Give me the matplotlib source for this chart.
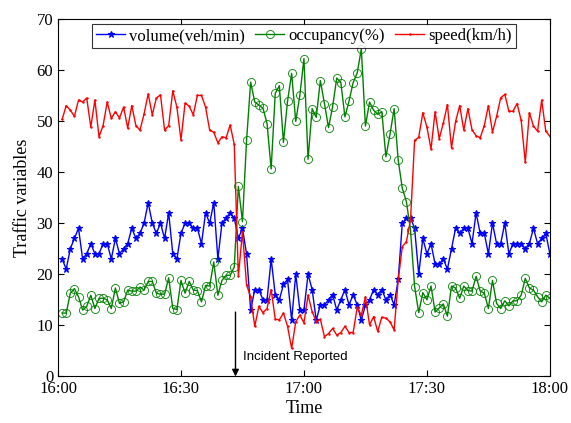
import numpy as np
import matplotlib
matplotlib.use("Agg")
import matplotlib.pyplot as plt

# 每分钟一个数据点 (16:01 - 18:00)
minutes = np.arange(1, 121)

volume = [23, 21, 25, 27, 29, 23, 24, 26, 24, 24,
          26, 26, 23, 27, 24, 25, 26, 29, 27, 28,
          30, 34, 30, 28, 30, 27, 32, 24, 23, 28,
          30, 30, 29, 29, 26, 32, 30, 34, 23, 30,
          31, 32, 31, 27, 29, 24, 13, 17, 17, 15,
          15, 23, 16, 15, 18, 19, 11, 20, 13, 13,
          20, 17, 11, 14, 14, 15, 16, 13, 15, 17,
          14, 16, 14, 11, 14, 15, 17, 16, 17, 15,
          16, 14, 19, 30, 31, 31, 29, 20, 27, 24,
          26, 22, 22, 23, 21, 25, 29, 28, 29, 29,
          26, 32, 28, 28, 24, 30, 26, 26, 30, 24,
          26, 26, 26, 25, 26, 29, 26, 27, 28, 24]

occupancy = [12.4, 12.4, 16.3, 17.2, 15.6, 13.0, 13.7, 15.9, 13.3, 15.3,
             15.3, 15.0, 13.3, 17.3, 14.3, 14.6, 16.9, 16.7, 16.7, 17.5,
             16.9, 18.6, 18.6, 16.3, 16.1, 16.1, 19.3, 13.3, 13.1, 18.8,
             16.3, 18.6, 16.9, 16.8, 14.6, 17.8, 17.7, 22.4, 15.9, 18.8,
             19.8, 19.8, 21.4, 37.2, 30.3, 46.2, 57.6, 53.7, 53.1, 52.5,
             49.5, 40.6, 55.4, 56.9, 45.8, 53.9, 59.3, 49.9, 55.0, 62.2,
             42.5, 52.4, 50.7, 57.9, 53.4, 48.7, 52.8, 58.4, 57.5, 50.8,
             53.9, 57.5, 59.4, 64.1, 49.0, 53.7, 52.1, 51.3, 51.8, 43.0,
             47.4, 52.4, 42.3, 36.8, 34.2, 28.6, 17.6, 12.5, 16.4, 15.0,
             17.7, 12.6, 13.4, 14.2, 11.8, 17.7, 17.3, 15.3, 17.7, 16.8,
             16.7, 19.6, 16.7, 16.3, 13.3, 18.8, 14.3, 13.3, 14.8, 13.8,
             14.8, 14.8, 15.9, 19.2, 17.3, 16.9, 15.6, 14.6, 15.9, 15.3]

speed = [50.3, 53.0, 52.1, 50.9, 54.1, 53.7, 54.5, 48.8, 54.1, 46.9,
         49.1, 53.7, 50.5, 51.8, 50.6, 52.7, 48.6, 53.0, 49.1, 48.2,
         51.4, 55.3, 51.2, 54.5, 55.1, 48.2, 49.1, 55.9, 52.7, 46.3,
         53.5, 52.9, 51.2, 55.0, 55.0, 52.7, 48.2, 47.8, 45.7, 46.9,
         46.7, 49.2, 45.4, 19.6, 28.3, 17.9, 15.6, 9.8, 13.7, 12.5,
         13.3, 17.0, 11.2, 11.1, 12.4, 9.8, 5.5, 10.7, 12.0, 10.5,
         15.9, 12.7, 10.7, 11.2, 7.8, 8.4, 9.4, 8.1, 8.6, 9.8,
         8.6, 8.6, 13.5, 12.0, 15.6, 10.1, 11.7, 8.8, 11.6, 11.4,
         10.7, 9.1, 18.9, 25.4, 26.4, 30.6, 46.2, 46.8, 51.6, 48.8,
         44.5, 51.8, 46.5, 49.6, 53.2, 44.7, 49.9, 53.0, 48.2, 52.4,
         48.3, 47.1, 46.7, 49.1, 53.0, 47.8, 50.9, 54.5, 55.2, 51.9,
         51.9, 53.4, 50.1, 41.9, 51.6, 49.0, 48.0, 54.1, 48.0, 47.0]

tick_pos = [0, 30, 60, 90, 120]
tick_labels = ["16:00", "16:30", "17:00", "17:30", "18:00"]
incident_min = 43.3

plt.rcParams['font.family'] = ['Liberation Serif', 'DejaVu Serif']
plt.rcParams['mathtext.fontset'] = 'stix'

fig = plt.figure(figsize=(5.71, 4.23), dpi=100)
ax = fig.add_axes([0.1016, 0.110, 0.8614, 0.8457])

ax.plot(minutes, volume, color='b', lw=1, marker='*', markersize=5,
        markeredgewidth=0.8, label='volume(veh/min)')
ax.plot(minutes, occupancy, color=(0, 0.5, 0), lw=1, marker='o', markersize=5.8,
        markerfacecolor='none', markeredgewidth=0.6, label='occupancy(%)')
ax.plot(minutes, speed, color='r', lw=1, marker='.', markersize=1.5,
        label='speed(km/h)')

# 事故报告标记
ax.annotate('', xy=(incident_min, 0), xytext=(incident_min, 12.6),
            arrowprops=dict(arrowstyle='-|>', color='k', lw=1, mutation_scale=10,
                            shrinkA=0, shrinkB=0))
ax.text(incident_min + 1.8, 3.8, 'Incident Reported', fontsize=9.5,
        family=['Liberation Sans', 'DejaVu Sans'], va='center', ha='left')

ax.set_xlim(0, 120)
ax.set_ylim(0, 70)
ax.set_xticks(tick_pos)
ax.set_xticklabels(tick_labels)
ax.set_yticks(range(0, 71, 10))
ax.tick_params(direction='in', top=True, right=True, labelsize=12, length=4)
ax.set_xlabel('Time', fontsize=13, labelpad=2)
ax.set_ylabel('Traffic variables', fontsize=13, labelpad=4)

leg = ax.legend(loc='upper center', ncol=3, fontsize=12, frameon=True, fancybox=False,
                edgecolor='k', handlelength=1.75, columnspacing=0.6, handletextpad=0.25,
                borderpad=0.25, borderaxespad=0.3, bbox_to_anchor=(0.5, 1.0))
leg.get_frame().set_linewidth(0.8)

fig.savefig('out.png', dpi=100)
